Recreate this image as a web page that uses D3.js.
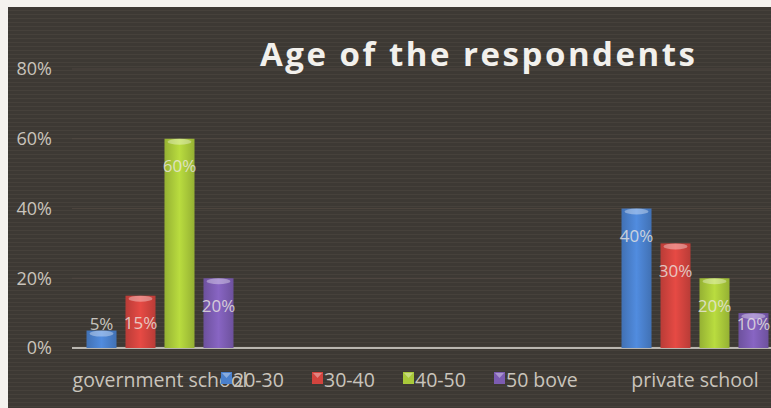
<!DOCTYPE html>
<html>
<head>
<meta charset="utf-8">
<script src="https://cdn.jsdelivr.net/npm/d3@7"></script>
<style>
  html, body { margin: 0; padding: 0; background: #f4f2ee; }
  svg { display: block; }
</style>
</head>
<body>
<div id="svgDiv"></div>
<script>
// data
var categories = ["government school", "private school"];
var seriesNames = ["20-30", "30-40", "40-50", "50 bove"];
var govValues = [5, 15, 60, 20];
var privValues = [40, 30, 20, 10];
var yTicks = [0, 20, 40, 60, 80];
var seriesColors = ["#4a80cc", "#d2443e", "#a9c93a", "#7c5cb2"];

var svgWidth = 771, svgHeight = 408;

var svg = d3.select("#svgDiv")
    .append("svg")
    .attr("width", svgWidth)
    .attr("height", svgHeight);

var defs = svg.append("defs");

// faint scan-line texture of the photographed slide
var pat = defs.append("pattern")
    .attr("id", "stripes")
    .attr("width", 6).attr("height", 4)
    .attr("patternUnits", "userSpaceOnUse");
pat.append("rect").attr("width", 6).attr("height", 4).attr("fill", "#3d3934");
pat.append("rect").attr("y", 2).attr("width", 6).attr("height", 1).attr("fill", "#46413b");

// bar gradients, lighter in the middle
seriesColors.forEach(function(c, i) {
    var g = defs.append("linearGradient")
        .attr("id", "grad" + i)
        .attr("x1", 0).attr("x2", 1).attr("y1", 0).attr("y2", 0);
    g.append("stop").attr("offset", "0%").attr("stop-color", d3.color(c).darker(0.35));
    g.append("stop").attr("offset", "50%").attr("stop-color", d3.color(c).brighter(0.25));
    g.append("stop").attr("offset", "100%").attr("stop-color", d3.color(c).darker(0.35));
});

// dark slide area
svg.append("rect")
    .attr("x", 8).attr("y", 7)
    .attr("width", svgWidth - 8).attr("height", svgHeight - 7)
    .attr("fill", "url(#stripes)");

var baseY = 348, topY = 69;

var yScale = d3.scaleLinear()
    .domain([0, 80])
    .range([baseY, topY]);

var xScale = d3.scalePoint()
    .domain(categories)
    .range([160, 695]);

var xInner = d3.scaleBand()
    .domain(seriesNames)
    .range([-73.5, 73.5])
    .paddingInner(0.23);

// faint gridlines
svg.append("g")
    .selectAll("line")
    .data(yTicks.slice(1))
    .enter().append("line")
    .attr("x1", 72).attr("x2", svgWidth)
    .attr("y1", d => yScale(d)).attr("y2", d => yScale(d))
    .attr("stroke", "#6a5a50")
    .attr("stroke-opacity", 0.35)
    .attr("stroke-width", 1);

// y axis labels
var yAxis = d3.axisLeft(yScale)
    .tickValues(yTicks)
    .tickFormat(d => d + "%")
    .tickSize(0)
    .tickPadding(0);

var yAxisG = svg.append("g")
    .attr("transform", "translate(52,0)")
    .call(yAxis);
yAxisG.select(".domain").remove();
yAxisG.selectAll("text")
    .attr("fill", "#c9c4bc")
    .style("font-family", "'Open Sans', sans-serif")
    .style("font-size", "18px");

// baseline
svg.append("line")
    .attr("x1", 72).attr("x2", svgWidth)
    .attr("y1", baseY).attr("y2", baseY)
    .attr("stroke", "#b9b6b0")
    .attr("stroke-width", 2);

var tableData = categories.map(function(c, ci) {
    var vals = ci === 0 ? govValues : privValues;
    return {category: c, values: seriesNames.map((s, si) => ({series: s, idx: si, value: vals[si]}))};
});

var groups = svg.selectAll(".group")
    .data(tableData)
    .enter().append("g")
    .attr("class", "group")
    .attr("transform", d => "translate(" + xScale(d.category) + ",0)");

var bars = groups.selectAll(".bar")
    .data(d => d.values)
    .enter().append("g")
    .attr("class", "bar");

bars.append("rect")
    .attr("x", d => xInner(d.series))
    .attr("y", d => yScale(d.value))
    .attr("width", xInner.bandwidth())
    .attr("height", d => baseY - yScale(d.value))
    .attr("fill", d => "url(#grad" + d.idx + ")");

// glossy top highlight
bars.append("ellipse")
    .attr("cx", d => xInner(d.series) + xInner.bandwidth() / 2)
    .attr("cy", d => yScale(d.value) + 3)
    .attr("rx", xInner.bandwidth() / 2 - 3)
    .attr("ry", 3)
    .attr("fill", "#ffffff")
    .attr("fill-opacity", 0.35);

// data labels
bars.append("text")
    .attr("x", d => xInner(d.series) + xInner.bandwidth() / 2)
    .attr("y", d => Math.min(yScale(d.value) + 27, baseY - 25))
    .attr("text-anchor", "middle")
    .attr("dominant-baseline", "central")
    .attr("fill", "#ece8e2")
    .attr("fill-opacity", 0.8)
    .style("font-family", "'Open Sans', sans-serif")
    .style("font-size", "17px")
    .text(d => d.value + "%");

// category labels
svg.selectAll(".catLabel")
    .data(categories)
    .enter().append("text")
    .attr("class", "catLabel")
    .attr("x", d => xScale(d))
    .attr("y", 379)
    .attr("text-anchor", "middle")
    .attr("dominant-baseline", "central")
    .attr("fill", "#c9c4bc")
    .style("font-family", "'Open Sans', sans-serif")
    .style("font-size", "19.5px")
    .text(d => d);

// legend (overlaps the first category label, as in the slide)
var legend = svg.selectAll(".legendItem")
    .data(seriesNames)
    .enter().append("g")
    .attr("class", "legendItem")
    .attr("transform", (d, i) => "translate(" + (221 + i * 91) + ",378)");

legend.append("rect")
    .attr("x", 0).attr("y", -6)
    .attr("width", 11).attr("height", 12)
    .attr("fill", (d, i) => seriesColors[i]);
legend.append("path")
    .attr("d", "M1,-5 L10,-5 L5.5,0 Z")
    .attr("fill", "#ffffff")
    .attr("fill-opacity", 0.35);

legend.append("text")
    .attr("x", 12)
    .attr("y", 1)
    .attr("dominant-baseline", "central")
    .attr("fill", "#c9c4bc")
    .style("font-family", "'Open Sans', sans-serif")
    .style("font-size", "19.5px")
    .text(d => d);

// title
svg.append("text")
    .attr("x", 260)
    .attr("y", 66)
    .attr("textLength", 435)
    .attr("lengthAdjust", "spacing")
    .attr("fill", "#f2f0ec")
    .style("font-family", "'Open Sans', sans-serif")
    .style("font-weight", "bold")
    .style("font-size", "33px")
    .text("Age of the respondents");
</script>
</body>
</html>
